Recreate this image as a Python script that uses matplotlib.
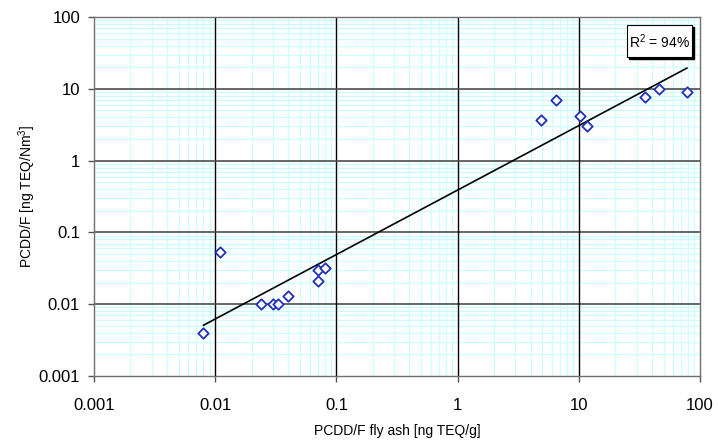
import numpy as np
import matplotlib
matplotlib.use("Agg")
import matplotlib.pyplot as plt
from matplotlib.patches import Rectangle
from matplotlib.ticker import LogLocator, FixedLocator, NullFormatter

# PCDD/F in fly ash vs. PCDD/F in flue gas
fly_ash = [0.008, 0.011, 0.024, 0.030, 0.033, 0.040, 0.070, 0.070, 0.080,
           4.9, 6.5, 10.2, 11.6, 35, 46, 78]
flue_gas = [0.004, 0.054, 0.010, 0.010, 0.010, 0.013, 0.030, 0.021, 0.032,
            3.7, 7.0, 4.2, 3.0, 7.8, 10.0, 9.0]
decades = [0.001, 0.01, 0.1, 1, 10, 100]
decade_labels = ["0.001", "0.01", "0.1", "1", "10", "100"]
r2_text = "R$^2$ = 94%"

plt.rcParams['font.family'] = ['Liberation Sans', 'DejaVu Sans']
plt.rcParams['mathtext.fontset'] = 'custom'
plt.rcParams['mathtext.rm'] = 'Liberation Sans'

W, H = 718, 443
fig = plt.figure(figsize=(W / 100, H / 100), dpi=100)
ax = fig.add_axes([94 / W, 1 - 376 / H, 606 / W, 359 / H])
ax.set_xscale('log')
ax.set_yscale('log')
ax.set_xlim(0.001, 100)
ax.set_ylim(0.001, 100)

# light cyan minor grid
ax.xaxis.set_minor_locator(LogLocator(base=10, subs=np.arange(2, 10)))
ax.yaxis.set_minor_locator(LogLocator(base=10, subs=np.arange(2, 10)))
ax.grid(which='minor', color='#ccffff', linewidth=0.9)
ax.set_axisbelow(True)

# dark major grid drawn above the minor one
for d in decades[1:-1]:
    ax.axvline(d, color='black', linewidth=1.0, zorder=1.5)
    ax.axhline(d, color='#4d4d4d', linewidth=1.2, zorder=1.5)

ax.xaxis.set_major_locator(FixedLocator(decades))
ax.yaxis.set_major_locator(FixedLocator(decades))
ax.set_xticklabels(decade_labels)
ax.set_yticklabels(decade_labels)
ax.xaxis.set_minor_formatter(NullFormatter())
ax.yaxis.set_minor_formatter(NullFormatter())
ax.tick_params(which='major', direction='out', length=4, width=1, color='#555555',
               labelsize=12)
ax.tick_params(axis='x', pad=12)
ax.tick_params(axis='y', pad=6)
ax.tick_params(which='minor', length=0)
for s in ax.spines.values():
    s.set_color('#707070')
    s.set_linewidth(1.0)

# power-law trend line (least squares in log-log space)
lx = np.log10(fly_ash)
ly = np.log10(flue_gas)
b, a = np.polyfit(lx, ly, 1)
xs = np.array([min(fly_ash), max(fly_ash)])
ax.plot(xs, 10 ** (a + b * np.log10(xs)), color='black', linewidth=1.2, zorder=3)

ax.scatter(fly_ash, flue_gas, marker='D', s=28, facecolors='white',
           edgecolors='#1f2fbf', linewidths=1.3, zorder=4)

# R² label box with drop shadow
bx, by, bw, bh = 627, H - 57, 65, 32
fig.add_artist(Rectangle(((bx + 2) / W, (by - 2) / H), bw / W, bh / H,
                         transform=fig.transFigure, facecolor='black',
                         edgecolor='black', zorder=5))
fig.add_artist(Rectangle((bx / W, by / H), bw / W, bh / H,
                         transform=fig.transFigure, facecolor='white',
                         edgecolor='black', linewidth=0.8, zorder=6))
fig.text((bx + bw / 2) / W, (by + bh / 2 - 1) / H, r2_text, ha='center', va='center',
         fontsize=10, color='black', zorder=7)

ax.set_xlabel("PCDD/F fly ash [ng TEQ/g]", fontsize=10, va='center')
ax.xaxis.set_label_coords(0.5, (376 - 431) / 359)
ax.set_ylabel("PCDD/F [ng TEQ/Nm$^3$]", fontsize=10, va='center')
ax.yaxis.set_label_coords((27 - 94) / 606, 0.5)

fig.savefig("out.png", dpi=100)
